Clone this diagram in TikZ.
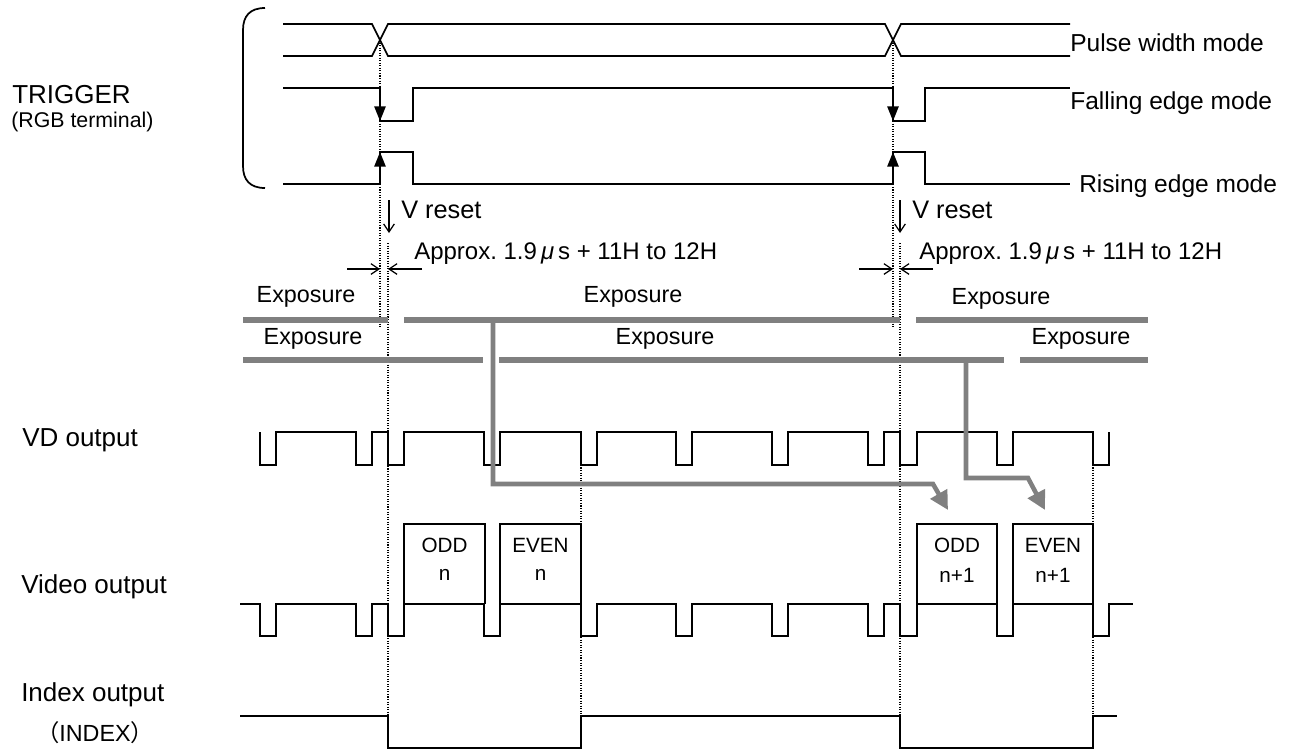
\documentclass[tikz,border=0pt]{standalone}
\usepackage{fontspec}
\setmainfont{Liberation Sans}
\newfontfamily\cjkfont{Noto Sans CJK JP}
\usetikzlibrary{arrows.meta}
\definecolor{bargray}{RGB}{128,128,128}
\frenchspacing
\begin{document}
\begin{tikzpicture}[x=0.75pt,y=-0.75pt,
  sig/.style={line width=1.3pt,line join=miter},
  thinsig/.style={line width=1.1pt,line join=miter},
  expbar/.style={bargray,line width=5pt},
  conn/.style={bargray,line width=3.4pt,line join=miter,-{Triangle[width=14pt,length=14pt]}},
  dotl/.style={line width=0.8pt,dash pattern=on 0.8pt off 1.1pt},
  trigarrow/.style={line width=1.3pt,-{Triangle[width=8.5pt,length=11pt]}},
  openarrow/.style={line width=0.9pt,-{Straight Barb[length=6pt,width=8pt]}},
  lab/.style={inner sep=0pt,anchor=west,font=\fontsize{19.5}{22}\selectfont},
  mode/.style={inner sep=0pt,anchor=west,font=\fontsize{18.4}{21}\selectfont},
  small/.style={inner sep=0pt,font=\fontsize{17.5}{20}\selectfont},
  boxtxt/.style={inner sep=0pt,font=\fontsize{15.5}{18}\selectfont}]
\useasboundingbox (0,0) rectangle (1292,751);

% ---------- left labels ----------
\node[lab] (ltrig) at (12,95) {TRIGGER};
\node[inner sep=0pt,anchor=west,font=\fontsize{16}{18}\selectfont] (lrgb) at (11,122) {(RGB terminal)};
\node[lab] (lvd) at (22,440) {VD output};
\node[lab] (lvideo) at (21,587) {Video output};
\node[lab] (lindex) at (21,695) {Index output};
\node[small] (lindex2) at (95,733) {{\cjkfont （}INDEX{\cjkfont ）}};

% ---------- bracket ----------
\draw[line width=1.3pt] (265,8) .. controls (250,8) and (243,16) .. (243,30) -- (243,166) .. controls (243,180) and (250,188) .. (265,188);

% ---------- trigger signals ----------
\draw[sig] (283,24) -- (372,24) -- (388,56) -- (885,56) -- (901,24) -- (1070,24);
\draw[sig] (283,56) -- (372,56) -- (388,24) -- (885,24) -- (901,56) -- (1070,56);
\draw[sig] (283,88) -- (380,88) -- (380,121) -- (413,121) -- (413,88) -- (893,88) -- (893,121) -- (925,121) -- (925,88) -- (1070,88);
\draw[sig] (283,184) -- (380,184) -- (380,152) -- (413,152) -- (413,184) -- (893,184) -- (893,152) -- (925,152) -- (925,184) -- (1070,184);
\coordinate (fa1) at (380,88); \coordinate (fb1) at (380,121);
\coordinate (fa2) at (893,88); \coordinate (fb2) at (893,121);
\coordinate (ra1) at (380,184); \coordinate (rb1) at (380,152);
\coordinate (ra2) at (893,184); \coordinate (rb2) at (893,152);
\draw[trigarrow] (fa1) -- (fb1);
\draw[trigarrow] (fa2) -- (fb2);
\draw[trigarrow] (ra1) -- (rb1);
\draw[trigarrow] (ra2) -- (rb2);

\node[mode] (mpw) at (1070,43) {Pulse width mode};
\node[mode] (mfe) at (1070,103) {Falling edge mode};
\node[mode] (mre) at (1079,186) {Rising edge mode};

% ---------- dotted guide lines ----------
\draw[dotl] (380,40) -- (380,328);
\draw[dotl] (893,40) -- (893,328);
\draw[dotl] (388,243) -- (388,748);
\draw[dotl] (900,243) -- (900,748);
\draw[dotl] (581,432) -- (581,748);
\draw[dotl] (1093,432) -- (1093,748);

% ---------- V reset ----------
\coordinate (vr1a) at (389,200); \coordinate (vr1b) at (389,233);
\coordinate (vr2a) at (900,200); \coordinate (vr2b) at (900,233);
\draw[openarrow] (vr1a) -- (vr1b);
\draw[openarrow] (vr2a) -- (vr2b);
\node[inner sep=0pt,anchor=west,font=\fontsize{19}{22}\selectfont] (vrt1) at (401,210) {V reset};
\node[inner sep=0pt,anchor=west,font=\fontsize{19}{22}\selectfont] (vrt2) at (912,210) {V reset};

% ---------- delay markers ----------
\coordinate (d1a) at (347,269); \coordinate (d1b) at (380,269);
\coordinate (d1c) at (422,269); \coordinate (d1d) at (388,269);
\coordinate (d2a) at (859,269); \coordinate (d2b) at (893,269);
\coordinate (d2c) at (933,269); \coordinate (d2d) at (900,269);
\draw[openarrow] (d1a) -- (d1b);
\draw[openarrow] (d1c) -- (d1d);
\draw[openarrow] (d2a) -- (d2b);
\draw[openarrow] (d2c) -- (d2d);
\node[inner sep=0pt,anchor=west,font=\fontsize{18}{21}\selectfont] (ap1) at (414,254) {Approx. 1.9\,\textit{μ}\,s + 11H to 12H};
\node[inner sep=0pt,anchor=west,font=\fontsize{18}{21}\selectfont] (ap2) at (919,254) {Approx. 1.9\,\textit{μ}\,s + 11H to 12H};

% ---------- exposure bars ----------
\draw[expbar] (243,320) -- (388,320);
\draw[expbar] (404,320) -- (900,320);
\draw[expbar] (916,320) -- (1148,320);
\draw[expbar] (243,360) -- (483,360);
\draw[expbar] (499,360) -- (1004,360);
\draw[expbar] (1020,360) -- (1148,360);
\node[small] (e1) at (306,297) {Exposure};
\node[small] (e2) at (633,297) {Exposure};
\node[small] (e3) at (1001,299) {Exposure};
\node[small] (e4) at (313,339) {Exposure};
\node[small] (e5) at (665,339) {Exposure};
\node[small] (e6) at (1081,339) {Exposure};

% ---------- VD output ----------
\draw[thinsig] (260,432)
  foreach \a/\b in {260/276,356/372,388/404,484/500,581/597,676/692,772/788,868/884,900/917,997/1013,1093/1109}
  { -- (\a,432) -- (\a,465) -- (\b,465) -- (\b,432) };

% ---------- Video output ----------
\draw[thinsig] (240,604)
  foreach \a/\b in {260/276,356/372,388/404,484/500,581/597,676/692,772/788,868/884,900/917,997/1013,1093/1109}
  { -- (\a,604) -- (\a,636) -- (\b,636) -- (\b,604) } -- (1133,604);

\draw[thinsig] (404,604) -- (404,524) -- (485,524) -- (485,604);
\draw[thinsig] (500,604) -- (500,524) -- (581,524) -- (581,604);
\draw[thinsig] (917,604) -- (917,524) -- (997,524) -- (997,604);
\draw[thinsig] (1013,604) -- (1013,524) -- (1093,524) -- (1093,604);
\node[boxtxt] (o1) at (444.5,545) {ODD};
\node[boxtxt] (o1n) at (444.5,575) {n};
\node[boxtxt] (ev1) at (540.5,545) {EVEN};
\node[boxtxt] (ev1n) at (540.5,575) {n};
\node[boxtxt] (o2) at (957,545) {ODD};
\node[boxtxt] (o2n) at (957,575) {n+1};
\node[boxtxt] (ev2) at (1053,545) {EVEN};
\node[boxtxt] (ev2n) at (1053,575) {n+1};

% ---------- Index output ----------
\draw[thinsig] (240,716) -- (388,716) -- (388,748) -- (581,748) -- (581,716) -- (900,716) -- (900,748) -- (1093,748) -- (1093,716) -- (1117,716);

% ---------- grey transfer arrows ----------
\coordinate (g1s) at (493,320);
\coordinate (g1e) at (948,510);
\coordinate (g2s) at (966,360);
\coordinate (g2e) at (1045,510);
\draw[conn] (g1s) -- (493,484) -- (933,484) -- (g1e);
\draw[conn] (g2s) -- (966,478) -- (1028,478) -- (g2e);
\end{tikzpicture}
\end{document}
